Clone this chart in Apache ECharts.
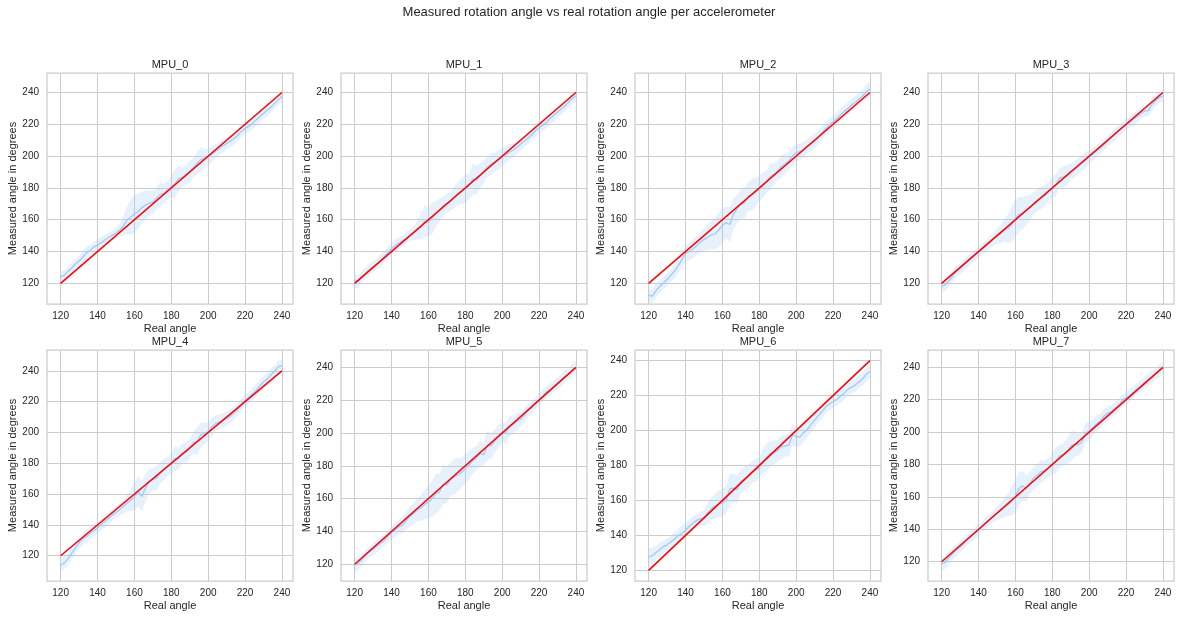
<!DOCTYPE html>
<html>
<head>
<meta charset="utf-8">
<script src="https://cdn.jsdelivr.net/npm/echarts@6/dist/echarts.min.js"></script>
<style>
  html, body { margin: 0; padding: 0; background: #ffffff; }
  #chart { width: 1177px; height: 618px; }
</style>
</head>
<body>
<div id="chart"></div>
<script>
// Real rotation angle (degrees) at which each sample was averaged
const realAngle = [120,122,124,126,128,130,132,134,136,138,140,142,144,146,148,150,
  152,154,156,158,160,162,164,166,168,170,172,174,176,178,180,182,184,186,188,190,
  192,194,196,198,200,202,204,206,208,210,212,214,216,218,220,222,224,226,228,230,
  232,234,236,238,240];

// Reference line: measured == real
const idealLine = [[120, 120], [240, 240]];

const tickValues = [120, 140, 160, 180, 200, 220, 240];
const sensorNames = ['MPU_0','MPU_1','MPU_2','MPU_3','MPU_4','MPU_5','MPU_6','MPU_7'];

// Mean measured angle per sensor, and half width of the confidence band
const mpu0Mean = [124.0,125.2,127.5,129.6,132.0,134.0,136.4,139.2,140.6,142.8,144.0,145.5,147.3,148.8,150.2,151.6,
  153.4,156.2,159.8,161.5,163.8,165.0,167.6,169.2,170.4,171.0,173.5,175.8,176.6,178.5,180.8,182.6,185.9,186.7,188.4,190.2,
  192.8,195.4,197.8,198.4,199.6,201.4,203.1,204.8,206.5,208.0,209.4,210.9,213.0,215.6,217.4,218.7,220.5,222.8,224.9,226.8,
  228.9,230.7,233.2,235.4,237.5];
const mpu0Spread = [3.5,3,3,3.5,3.5,3.5,4,4,3.5,3.5,3.5,3.5,3,3,3,3.5,
  4,6,9,11,12,11,10,9,8,7,
  7,8,6,6,7,9,8,6,6,7,6,7,8,
  6,5,5,4.5,4,4,4,
  3.5,3.5,4,3.5,3.5,3.5,4,3.5,3.5,3.5,4,3.5,3.5,3.5,3.5];

const mpu1Mean = [122.0,121.0,124.5,126.4,128.8,130.5,132.2,134.3,136.8,139.5,141.6,143.8,145.2,146.9,148.5,150.4,
  151.6,153.8,155.5,159.2,158.4,161.0,163.5,166.2,168.8,170.5,171.6,174.2,176.5,177.8,179.5,181.2,185.6,185.0,187.4,190.5,
  193.2,195.0,196.4,197.6,199.5,200.8,202.6,203.9,205.5,207.6,209.4,211.2,213.5,216.0,217.8,219.5,221.3,223.8,225.7,227.6,
  229.8,231.5,234.0,236.2,238.0];
const mpu1Spread = [5,4,3.5,3.5,3.5,3.5,3.5,4,3.5,3.5,3.5,4,3.5,3.5,3.5,3.5,
  4.5,6,8,10,9,10,8,7,6,6,
  6,7,7,8,9,8,10,9,8,7,6,7,6,
  6,6,5,5,4.5,4,4,
  3.5,3.5,3.5,4,3.5,3.5,3.5,3.5,4,3.5,3.5,3.5,3.5,3.5,3.5];

const mpu2Mean = [112.5,112.0,115.4,118.0,120.2,122.4,125.0,127.6,131.0,134.8,138.6,140.0,141.8,143.6,145.8,147.5,
  149.0,150.4,151.2,153.5,156.5,158.2,157.0,163.5,167.0,169.8,170.5,174.8,175.6,177.4,179.6,181.5,184.0,187.2,188.6,190.8,
  193.5,195.2,197.0,200.0,202.2,202.8,204.0,206.4,207.8,209.6,211.8,214.5,217.2,219.8,221.6,223.5,225.9,228.0,229.8,232.2,
  233.8,235.6,237.8,240.5,242.3];
const mpu2Spread = [4.5,4.5,4.5,4,4,4,4,4.5,4.5,5,5.5,5.5,6,6,6.5,7,
  8,9,10,11,11,10,11,10,9,9,
  10,9,10,9,8,8,7,8,7,6,7,6,6,
  6,5.5,5,5,4.5,4.5,4.5,
  4.5,4,4.5,4,4,4,4,4,4,4,4,4,4,4.5,4.5];

const mpu3Mean = [118.0,119.2,121.8,124.6,127.5,129.4,131.3,133.5,135.8,137.6,139.6,141.5,143.4,145.6,147.8,149.5,
  151.2,153.4,154.5,157.0,160.8,163.5,164.2,166.0,167.6,170.4,172.6,173.8,175.2,177.8,180.4,182.0,186.4,186.8,188.2,190.6,
  191.8,193.5,195.6,197.4,199.5,201.2,203.2,205.0,207.2,209.4,211.6,213.8,215.9,217.8,219.6,221.4,223.2,225.0,226.8,228.4,
  228.6,232.5,234.8,236.9,237.8];
const mpu3Spread = [4,3.5,3.5,3.5,3.5,3.5,3.5,3.5,3.5,3.5,3.5,3.5,3.5,4,4,4.5,
  6,7,9,11,12,11,10,9,8,7,
  7,7,7,6,7,7,6,7,6,5,5,5,5,
  5,4.5,4,4,3.5,3.5,3.5,
  3.5,4,3.5,3.5,3.5,3.5,4,3.5,3.5,3.5,4,4,3.5,3.5,3.5];

const mpu4Mean = [113.8,115.4,118.0,121.6,125.0,128.4,131.0,132.5,134.6,136.2,138.0,140.2,142.4,144.2,146.3,148.2,
  150.0,152.0,154.2,156.0,158.4,162.0,158.5,164.0,168.6,169.5,170.4,173.6,176.2,178.0,180.0,183.2,183.0,186.5,187.2,189.6,
  193.4,194.2,198.6,199.2,200.4,203.6,205.8,206.8,208.0,209.2,210.6,212.8,215.0,218.2,221.0,222.6,225.0,227.4,230.2,232.8,
  234.6,237.4,239.8,242.6,243.4];
const mpu4Spread = [4,4,4,4,4,4,4,4,4,3.5,3.5,3.5,4,4,3.5,3.5,
  4,4.5,5.5,7,9,10,10,9,8,7,
  8,7,7,6,7,8,7,6,7,6,7,9,8,
  7,6,6,5,5,4.5,4.5,
  4.5,4.5,4,4,4,3.5,4,4,4,3.5,4,4,3.5,4,4];

const mpu5Mean = [119.5,120.8,123.0,125.4,127.6,129.2,131.0,132.8,134.6,137.0,139.4,141.0,142.8,144.0,146.6,149.2,
  151.0,153.2,154.4,156.6,158.0,160.0,163.2,164.0,168.8,168.4,171.8,173.2,174.6,176.0,178.2,180.4,183.0,184.8,187.4,186.8,
  192.6,192.2,195.2,198.0,200.2,200.6,203.8,205.4,207.0,208.4,210.8,213.6,215.4,218.2,220.4,222.6,225.2,226.4,228.6,230.4,
  232.2,234.6,235.8,238.4,239.6];
const mpu5Spread = [4.5,4,4,3.5,3.5,3.5,4,3.5,3.5,3.5,4,4.5,4.5,5,5.5,6,
  6.5,7,8,9,10,11,12,11,12,11,
  10,11,10,9,9,9,8,7,8,7,9,8,7,
  7,6,6,6,5.5,5,4.5,
  4.5,4,4,3.5,4,3.5,3.5,4,3.5,3.5,3.5,4,3.5,4,4];

const mpu6Mean = [127.5,128.4,130.2,131.8,133.6,134.6,136.2,138.0,139.8,141.0,143.0,145.2,147.0,148.6,149.4,149.8,
  152.8,155.2,156.8,158.0,158.6,160.2,166.6,167.0,166.4,170.8,172.4,173.6,176.2,177.4,178.8,182.4,184.6,187.0,187.4,188.6,
  190.8,191.2,191.6,197.6,196.6,196.2,198.8,200.6,203.4,205.8,208.6,210.8,213.6,215.2,216.6,217.8,219.6,221.4,223.6,224.8,
  226.0,227.8,229.6,232.2,233.8];
const mpu6Spread = [5,4.5,4,4,3.5,3.5,3.5,4,4,4.5,4,4,4,3.5,4,4.5,
  6,6.5,7,7.5,8,8,9,8,8,7,
  7,7,6,7,6,7,8,7,7,6,7,6,6.5,
  6,6,5.5,5,4.5,4.5,4,
  4,4,3.5,3.5,3.5,3.5,3.5,4,3.5,3.5,4,3.5,4,4,4];

const mpu7Mean = [118.6,119.8,122.6,125.0,127.2,129.0,131.2,133.8,135.6,137.6,139.4,141.6,143.8,146.0,148.0,149.8,
  151.4,153.6,155.2,157.6,160.2,165.4,166.8,165.2,168.6,172.0,173.4,175.6,176.4,178.2,180.6,182.4,185.4,186.2,188.0,191.2,
  192.6,192.2,193.8,199.6,200.4,202.8,205.2,206.8,209.8,211.6,212.6,214.8,216.4,219.6,221.4,222.6,224.6,226.8,228.4,230.6,
  232.4,234.2,236.0,238.0,239.6];
const mpu7Spread = [4.5,4,4,3.5,3.5,3.5,3.5,3.5,3.5,3.5,3.5,3.5,3.5,3.5,3.5,4,
  5,6,7,9,10,10,9,8,7,7,
  7,7,6,6,7,8,7,7,8,9,8,7,6,
  6,6,5,5,4.5,4.5,4.5,
  4,4,4,3.5,3.5,4,3.5,3.5,3.5,3.5,3.5,4,3.5,4,4];

const means = [mpu0Mean, mpu1Mean, mpu2Mean, mpu3Mean, mpu4Mean, mpu5Mean, mpu6Mean, mpu7Mean];
const spreads = [mpu0Spread, mpu1Spread, mpu2Spread, mpu3Spread, mpu4Spread, mpu5Spread, mpu6Spread, mpu7Spread];

// ---- layout ----
const FONT = '"Liberation Sans", Arial, "DejaVu Sans", sans-serif';
const TEXT = '#262626';
const GRIDLINE = '#cccccc';
const LINE_BLUE = '#a1c9f4';
const BAND_FILL = 'rgba(161,201,244,0.25)';

const colLeft = [47, 341, 635, 928];
const rowTop = [73, 350];
const panelW = 246, panelH = 231;
const xRange = [112.6, 246];
const yRanges = [
  [107, 252.3], [107, 252.3], [107, 252.3], [107, 252.3],
  [103.6, 253.6], [109.8, 250.6], [113.9, 246.1], [108.1, 250.7]
];

const grids = [], xAxes = [], yAxes = [], series = [];
const titles = [{
  text: 'Measured rotation angle vs real rotation angle per accelerometer',
  left: 589, top: 6, textAlign: 'center', padding: 0,
  textStyle: { fontFamily: FONT, fontSize: 13, fontWeight: 'normal', color: TEXT }
}];

sensorNames.forEach((name, i) => {
  const col = i % 4, row = Math.floor(i / 4);
  grids.push({
    left: colLeft[col], top: rowTop[row], width: panelW, height: panelH,
    show: true, borderColor: GRIDLINE, borderWidth: 1.25, backgroundColor: '#ffffff',
    containLabel: false, outerBoundsMode: 'none'
  });
  titles.push({
    text: name, left: colLeft[col] + panelW / 2, top: rowTop[row] - 14, textAlign: 'center', padding: 0,
    textStyle: { fontFamily: FONT, fontSize: 11, fontWeight: 'normal', color: TEXT }
  });
  xAxes.push({
    type: 'value', gridIndex: i, min: xRange[0], max: xRange[1],
    name: 'Real angle', nameLocation: 'middle', nameGap: 19,
    nameTextStyle: { fontFamily: FONT, fontSize: 11, color: TEXT },
    axisLine: { show: false },
    axisTick: { show: false, customValues: tickValues },
    axisLabel: { customValues: tickValues, fontFamily: FONT, fontSize: 10, color: TEXT, margin: 7 },
    splitLine: { show: true, lineStyle: { color: GRIDLINE, width: 1 } }
  });
  yAxes.push({
    type: 'value', gridIndex: i, min: yRanges[i][0], max: yRanges[i][1],
    name: 'Measured angle in degrees', nameLocation: 'middle', nameGap: 29,
    nameTextStyle: { fontFamily: FONT, fontSize: 11, color: TEXT },
    axisLine: { show: false },
    axisTick: { show: false, customValues: tickValues },
    axisLabel: { customValues: tickValues, fontFamily: FONT, fontSize: 10, color: TEXT, margin: 8 },
    splitLine: { show: true, lineStyle: { color: GRIDLINE, width: 1 } }
  });

  const mean = means[i], spread = spreads[i];
  const bandData = realAngle.map((x, k) => [x, mean[k] - spread[k], mean[k] + spread[k]]);

  // confidence band as one polygon through the axis scales
  series.push({
    type: 'custom', xAxisIndex: i, yAxisIndex: i, silent: true, z: 1,
    data: bandData,
    encode: { x: 0, y: [1, 2] },
    renderItem: (params, api) => {
      if (params.dataIndex !== 0) return null;
      const upper = bandData.map(d => api.coord([d[0], d[2]]));
      const lower = bandData.map(d => api.coord([d[0], d[1]])).reverse();
      return {
        type: 'polygon',
        shape: { points: upper.concat(lower) },
        style: { fill: BAND_FILL, stroke: null }
      };
    }
  });
  series.push({
    type: 'line', xAxisIndex: i, yAxisIndex: i, z: 2,
    data: realAngle.map((x, k) => [x, mean[k]]),
    showSymbol: false, symbol: 'none',
    lineStyle: { color: LINE_BLUE, width: 1.3 }
  });
  series.push({
    type: 'line', xAxisIndex: i, yAxisIndex: i, z: 3,
    data: idealLine,
    showSymbol: false, symbol: 'none',
    lineStyle: { color: '#ff0000', width: 1.5 }
  });
});

const chart = echarts.init(document.getElementById('chart'), null, { renderer: 'canvas' });
chart.setOption({
  animation: false,
  backgroundColor: '#ffffff',
  title: titles,
  grid: grids,
  xAxis: xAxes,
  yAxis: yAxes,
  series: series
});
</script>
</body>
</html>
